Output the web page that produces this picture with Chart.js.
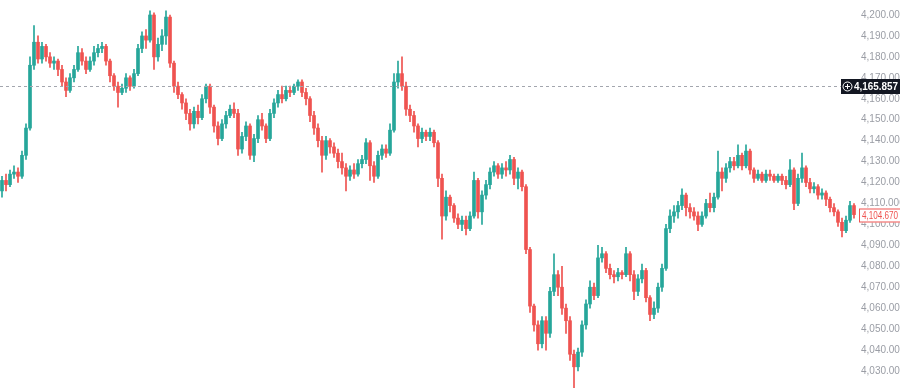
<!DOCTYPE html>
<html>
<head>
<meta charset="utf-8">
<script src="https://cdn.jsdelivr.net/npm/chart.js@4.4.1/dist/chart.umd.min.js"></script>
<style>
  html, body { margin: 0; padding: 0; background: #ffffff; }
  #wrap { width: 900px; height: 389px; position: relative; }
</style>
</head>
<body>
<div id="wrap"><canvas id="c" width="900" height="389"></canvas></div>
<script>
// ---- data ----
const opens = [
  4116,4121,4119,4124,4125,4123,4133,4146,4176,4187,
  4179,4185,4180,4177,4178,4174,4168,4164,4170,4174,
  4182,4178,4174,4178,4182,4184,4185,4178,4171,4166,
  4163,4165,4170,4166,4172,4184,4190,4188,4200,4180,
  4186,4190,4199,4177,4166,4162,4158,4153,4148,4154,
  4151,4160,4166,4156,4147,4141,4148,4152,4155,4153,
  4136,4142,4147,4133,4141,4150,4147,4141,4153,4158,
  4162,4160,4164,4163,4166,4168,4163,4160,4152,4146,
  4140,4133,4140,4137,4134,4130,4127,4123,4126,4124,
  4129,4131,4139,4128,4123,4133,4136,4134,4145,4168,
  4172,4166,4155,4152,4147,4141,4144,4142,4144,4139,
  4122,4104,4113,4109,4103,4100,4102,4098,4104,4121,
  4106,4114,4119,4125,4128,4124,4127,4126,4131,4122,
  4125,4118,4088,4061,4052,4043,4054,4048,4068,4076,
  4070,4060,4054,4038,4032,4039,4052,4062,4070,4066,
  4084,4086,4079,4076,4075,4077,4076,4086,4076,4068,
  4074,4078,4065,4057,4060,4070,4079,4098,4104,4106,
  4109,4114,4108,4106,4104,4100,4104,4110,4108,4113,
  4125,4122,4127,4130,4128,4133,4128,4135,4126,4122,
  4124,4121,4124,4123,4121,4123,4121,4119,4126,4110,
  4122,4127,4120,4117,4118,4114,4115,4112,4108,4106,
  4101,4097,4102,4109
];
const closes = [
  4121,4119,4124,4125,4123,4133,4146,4176,4187,4179,
  4185,4180,4177,4178,4174,4168,4164,4170,4174,4182,
  4178,4174,4178,4182,4184,4185,4178,4171,4166,4163,
  4165,4170,4166,4172,4184,4190,4188,4200,4180,4186,
  4190,4199,4177,4166,4162,4158,4153,4148,4154,4151,
  4160,4166,4156,4147,4141,4148,4152,4155,4153,4136,
  4142,4147,4133,4141,4150,4147,4141,4153,4158,4162,
  4160,4164,4163,4166,4168,4163,4160,4152,4146,4140,
  4133,4140,4137,4134,4130,4127,4123,4126,4124,4129,
  4131,4139,4128,4123,4133,4136,4134,4145,4168,4172,
  4166,4155,4152,4147,4141,4144,4142,4144,4139,4122,
  4104,4113,4109,4103,4100,4102,4098,4104,4121,4106,
  4114,4119,4125,4128,4124,4127,4126,4131,4122,4125,
  4118,4088,4061,4052,4043,4054,4048,4068,4076,4070,
  4060,4054,4038,4032,4039,4052,4062,4070,4066,4084,
  4086,4079,4076,4075,4077,4076,4086,4076,4068,4074,
  4078,4065,4057,4060,4070,4079,4098,4104,4106,4109,
  4114,4108,4106,4104,4100,4104,4110,4108,4113,4125,
  4122,4127,4130,4128,4133,4128,4135,4126,4122,4124,
  4121,4124,4123,4121,4123,4121,4119,4126,4110,4122,
  4127,4120,4117,4118,4114,4115,4112,4108,4106,4101,
  4097,4102,4109,4104.67
];
const highs = [
  4123,4124,4126,4128,4127,4135,4148,4180,4195,4190,
  4187,4186,4182,4180,4179,4176,4170,4172,4176,4185,
  4184,4180,4180,4185,4186,4187,4186,4179,4172,4168,
  4167,4172,4171,4174,4186,4192,4193,4202,4201,4189,
  4193,4202,4200,4178,4168,4163,4160,4155,4156,4157,
  4162,4167,4167,4157,4149,4150,4154,4157,4158,4155,
  4144,4149,4148,4143,4152,4153,4148,4155,4160,4164,
  4166,4166,4166,4167,4169,4169,4165,4161,4154,4148,
  4142,4142,4141,4139,4136,4134,4129,4128,4129,4131,
  4133,4141,4140,4130,4135,4138,4138,4148,4172,4178,
  4180,4168,4157,4154,4148,4146,4145,4146,4145,4140,
  4124,4116,4114,4110,4105,4104,4104,4106,4125,4122,
  4116,4121,4127,4130,4129,4129,4130,4133,4132,4127,
  4126,4119,4089,4062,4054,4056,4056,4070,4086,4078,
  4080,4062,4056,4040,4041,4054,4064,4073,4072,4090,
  4089,4087,4081,4078,4079,4078,4089,4087,4078,4076,
  4081,4079,4066,4063,4072,4081,4100,4107,4109,4111,
  4117,4115,4110,4108,4106,4106,4112,4115,4115,4135,
  4127,4129,4132,4132,4138,4134,4138,4136,4127,4126,
  4125,4126,4126,4124,4124,4124,4123,4131,4127,4124,
  4134,4128,4122,4120,4119,4117,4116,4113,4110,4107,
  4103,4104,4111,4110
];
const lows = [
  4113,4116,4118,4122,4120,4122,4131,4145,4174,4177,
  4177,4178,4175,4174,4171,4166,4161,4163,4168,4173,
  4176,4172,4173,4176,4180,4182,4176,4168,4164,4156,
  4162,4163,4164,4165,4171,4182,4184,4187,4174,4178,
  4183,4186,4175,4163,4160,4155,4150,4145,4146,4148,
  4150,4158,4153,4144,4138,4140,4146,4151,4151,4133,
  4134,4140,4131,4130,4139,4145,4139,4140,4151,4156,
  4158,4159,4161,4162,4164,4161,4157,4149,4143,4137,
  4125,4131,4134,4132,4127,4124,4116,4121,4122,4123,
  4127,4129,4121,4120,4122,4131,4132,4133,4144,4165,
  4164,4152,4149,4144,4137,4139,4140,4140,4137,4118,
  4093,4102,4106,4101,4098,4097,4095,4097,4103,4103,
  4100,4112,4117,4123,4122,4122,4123,4124,4119,4117,
  4116,4086,4058,4049,4040,4041,4040,4046,4066,4066,
  4057,4048,4035,4022,4030,4037,4050,4060,4064,4065,
  4082,4077,4074,4072,4073,4074,4075,4073,4064,4066,
  4072,4063,4054,4055,4058,4068,4078,4096,4101,4103,
  4107,4104,4103,4102,4097,4099,4103,4106,4106,4112,
  4116,4120,4125,4126,4127,4126,4127,4124,4120,4121,
  4120,4120,4121,4120,4120,4119,4117,4118,4107,4109,
  4120,4118,4115,4115,4112,4112,4109,4106,4104,4099,
  4094,4096,4101,4103
];
const yTicks = [4030,4040,4050,4060,4070,4080,4090,4100,4110,4120,4130,4140,4150,4160,4170,4180,4190,4200];
const markedPrice = 4165.857;   // dashed horizontal line / black label
const lastPrice = 4104.670;     // last close label

// ---- build chart ----
const UP = '#26a69a', DOWN = '#ef5350';
const labels = opens.map((_, i) => String(i));
const colors = opens.map((o, i) => closes[i] >= o ? UP : DOWN);
const fmt = v => v.toLocaleString('en-US', { minimumFractionDigits: 3, maximumFractionDigits: 3 });

const overlay = {
  id: 'overlay',
  afterDraw(chart) {
    const ctx = chart.ctx, y = chart.scales.y, area = chart.chartArea;
    ctx.save();
    // dashed price line
    const py = Math.round(y.getPixelForValue(markedPrice)) + 0.5;
    ctx.strokeStyle = '#a3a6ae';
    ctx.lineWidth = 1;
    ctx.setLineDash([3, 3]);
    ctx.beginPath();
    ctx.moveTo(area.left, py);
    ctx.lineTo(841, py);
    ctx.stroke();
    ctx.setLineDash([]);
    // black label with circle-plus icon
    ctx.fillStyle = '#131722';
    ctx.fillRect(841, py - 7.5, 59, 15);
    ctx.strokeStyle = '#ffffff';
    ctx.lineWidth = 1;
    ctx.beginPath();
    ctx.arc(847.5, py, 4.5, 0, Math.PI * 2);
    ctx.stroke();
    ctx.beginPath();
    ctx.moveTo(845, py); ctx.lineTo(850, py);
    ctx.moveTo(847.5, py - 2.5); ctx.lineTo(847.5, py + 2.5);
    ctx.stroke();
    ctx.fillStyle = '#ffffff';
    ctx.font = 'bold 10px "Liberation Sans", Arial, sans-serif';
    ctx.textBaseline = 'middle';
    ctx.textAlign = 'left';
    ctx.fillText(fmt(markedPrice), 854, py + 0.5, 44);
    // last price label
    const ly = Math.round(y.getPixelForValue(lastPrice)) + 0.5;
    ctx.fillStyle = '#ffffff';
    ctx.fillRect(859, ly - 7, 41, 14);
    ctx.strokeStyle = DOWN;
    ctx.strokeRect(859.5, ly - 6.5, 45, 13);
    ctx.fillStyle = DOWN;
    ctx.font = '10px "Liberation Sans", Arial, sans-serif';
    ctx.fillText(fmt(lastPrice), 862, ly + 0.5, 36);
    ctx.restore();
  }
};

new Chart(document.getElementById('c'), {
  type: 'bar',
  data: {
    labels,
    datasets: [
      {
        data: lows.map((l, i) => [l, highs[i]]),
        backgroundColor: colors,
        borderWidth: 0,
        barThickness: 1,
        grouped: false,
        order: 2
      },
      {
        data: opens.map((o, i) => [o, closes[i]]),
        backgroundColor: colors,
        borderWidth: 0,
        barThickness: 3,
        minBarLength: 1,
        grouped: false,
        order: 1
      }
    ]
  },
  options: {
    responsive: false,
    animation: false,
    devicePixelRatio: 1,
    layout: { padding: 0 },
    plugins: { legend: { display: false }, tooltip: { enabled: false }, title: { display: false } },
    scales: {
      x: { display: false, offset: true },
      y: {
        position: 'right',
        min: 4021.4,
        max: 4207.16,
        border: { display: false },
        grid: { display: false, drawTicks: false },
        afterBuildTicks: s => { s.ticks = yTicks.map(v => ({ value: v })); },
        afterFit: s => { s.width = 44; s.paddingTop = 0; s.paddingBottom = 0; },
        ticks: {
          padding: 5,
          color: '#9a9da5',
          font: { family: '"Liberation Sans", Arial, sans-serif', size: 10 },
          callback: v => fmt(v)
        }
      }
    }
  },
  plugins: [overlay]
});
</script>
</body>
</html>
